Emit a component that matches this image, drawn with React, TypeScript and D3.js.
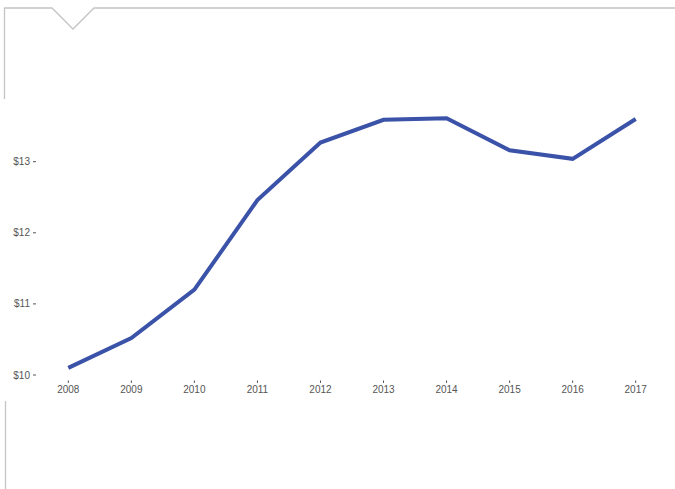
import React, { useEffect, useRef } from "react";
import * as d3 from "d3";

const years = ["2008", "2009", "2010", "2011", "2012", "2013", "2014", "2015", "2016", "2017"];
const values = [10.1, 10.52, 11.2, 12.46, 13.27, 13.59, 13.61, 13.16, 13.04, 13.6];
const yTicks = [10, 11, 12, 13];

export default function App() {
  const ref = useRef<SVGSVGElement>(null);
  useEffect(() => {
    const svg = d3.select(ref.current);
    svg.selectAll("*").remove();
    const x = d3.scalePoint<string>().domain(years).range([68.3, 635.7]);
    const y = d3.scaleLinear().domain([10, 13]).range([375, 161.7]);

    // frame
    const frame = svg.append("g").attr("fill", "none").attr("stroke", "#c4c4c4").attr("stroke-width", 1.3);
    frame.append("path").attr("d", "M4.5,99 L4.5,8 L52,8 L73,29 L94,8 L675,8");
    frame.append("path").attr("d", "M5.5,401 L5.5,489");

    // y axis
    const gy = svg.append("g");
    yTicks.forEach((t) => {
      gy.append("text")
        .attr("x", 30)
        .attr("y", y(t))
        .attr("dy", "0.35em")
        .attr("text-anchor", "end")
        .attr("font-family", "Liberation Sans, Arial, sans-serif")
        .attr("font-size", 10)
        .attr("fill", "#555")
        .text("$" + d3.format("d")(t));
      gy.append("line")
        .attr("x1", 33).attr("x2", 36)
        .attr("y1", y(t)).attr("y2", y(t))
        .attr("stroke", "#555").attr("stroke-width", 1);
    });

    // x axis
    const gx = svg.append("g");
    years.forEach((yr) => {
      gx.append("line")
        .attr("x1", x(yr)!).attr("x2", x(yr)!)
        .attr("y1", 380.5).attr("y2", 383)
        .attr("stroke", "#555").attr("stroke-width", 1);
      gx.append("text")
        .attr("x", x(yr)!)
        .attr("y", 389.5)
        .attr("dy", "0.35em")
        .attr("text-anchor", "middle")
        .attr("font-family", "Liberation Sans, Arial, sans-serif")
        .attr("font-size", 10)
        .attr("fill", "#555")
        .text(yr);
    });

    const line = d3.line<number>()
      .x((_, i) => x(years[i])!)
      .y((d) => y(d));
    svg.append("path")
      .datum(values)
      .attr("d", line)
      .attr("fill", "none")
      .attr("stroke", "#3a52a8")
      .attr("stroke-width", 4)
      .attr("stroke-linejoin", "miter")
      .attr("stroke-linecap", "butt");
  }, []);
  return (
    <svg
      ref={ref}
      width={675}
      height={489}
      style={{ position: "absolute", left: 0, top: 0, background: "#fff" }}
    />
  );
}
